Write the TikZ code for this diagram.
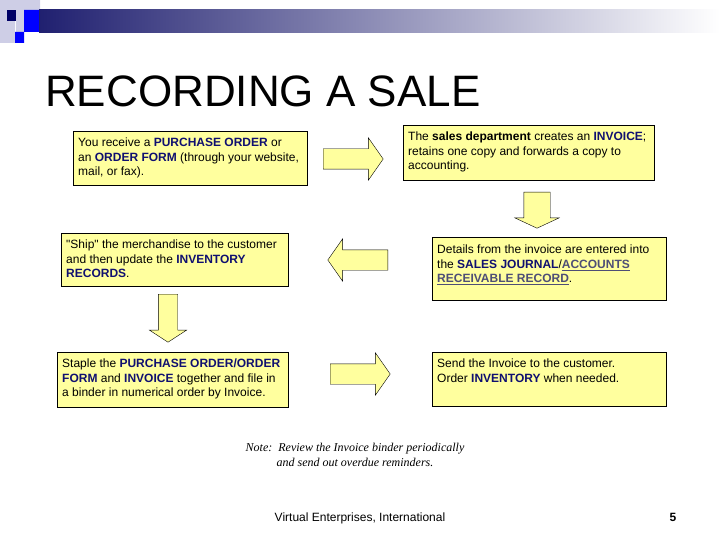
\documentclass[tikz,border=0pt]{standalone}
\usepackage{fontspec}
\setmainfont{Liberation Sans}
\newfontfamily\notefont{Liberation Serif}
\usetikzlibrary{shapes.arrows,positioning}
\definecolor{cardYellow}{RGB}{255,255,158}
\definecolor{keyNavy}{RGB}{16,16,112}
\definecolor{linkGray}{RGB}{78,78,118}
\definecolor{barNavy}{RGB}{32,32,112}
\definecolor{squareLav}{RGB}{206,206,230}
\definecolor{squareNavy}{RGB}{0,0,102}
\definecolor{squareBlue}{RGB}{0,0,255}
\newcommand{\kw}[1]{\textbf{\color{keyNavy}#1}}
\newcommand{\lnk}[1]{\textbf{\color{linkGray}\underline{#1}}}
\newcommand{\cardtext}[3]{\parbox[t][#2][t]{#1}{\raggedright #3}}

\begin{document}
\begin{tikzpicture}[x=1pt,y=-1pt,
  card/.style={draw, fill=cardYellow, anchor=north west, inner xsep=5pt,
    inner ysep=7pt, font=\fontsize{12}{14.5}\selectfont},
  blockarrow/.style={single arrow, draw, fill=cardYellow, anchor=tail,
    inner xsep=0pt, minimum width=1pt},
  downarrow/.style={blockarrow, shape border rotate=270, inner ysep=0pt}
]
\useasboundingbox (0,0) rectangle (720,540);
% header bar and squares
\fill[squareLav] (0,0) rectangle (40,10) (0,10) rectangle (7,43)
  (16,10) rectangle (24,32) (7,21) rectangle (15,43);
\fill[squareNavy] (7,10) rectangle (16,21);
\fill[squareBlue] (24,10) rectangle (39,32) (15,32) rectangle (24,43);
\shade[left color=barNavy, right color=white] (39,10) rectangle (720,33);
\node[anchor=base west, inner sep=0pt, font=\fontsize{44}{44}\selectfont]
  (title) at (45,107) {RECORDING A SALE};

\node[card] (order) at (73,131) {\cardtext{224pt}{40pt}{You receive a
  \kw{PURCHASE ORDER} or\\ an \kw{ORDER FORM} (through your website,\\
  mail, or fax).}};
\node[card] (invoice) at (403,125) {\cardtext{241pt}{41pt}{The
  \textbf{sales department} creates an \kw{INVOICE};\\ retains one copy
  and forwards a copy to\\ accounting.}};
\node[card] (ship) at (61,233) {\cardtext{217pt}{39pt}{\textquotedbl
  Ship\textquotedbl{} the merchandise to the customer\\ and then update
  the \kw{INVENTORY}\\ \kw{RECORDS}.}};
\node[card, inner ysep=8pt] (journal) at (432,237) {\cardtext{224pt}{47pt}{Details from
  the invoice are entered into\\ the \kw{SALES JOURNAL}/\lnk{ACCOUNTS}\\
  \lnk{RECEIVABLE RECORD}.}};
\node[card] (staple) at (57,352) {\cardtext{221pt}{41pt}{Staple the
  \kw{PURCHASE ORDER/ORDER}\\ \kw{FORM} and \kw{INVOICE} together and
  file in\\ a binder in numerical order by Invoice.}};
\node[card] (send) at (432,352) {\cardtext{224pt}{40pt}{Send the Invoice
  to the customer.\\ Order \kw{INVENTORY} when needed.}};

\node[blockarrow, minimum height=60pt, inner ysep=10pt,
  single arrow head extend=11pt, single arrow tip angle=110]
  (toInvoice) at (323,159) {};
\node[downarrow, minimum height=36pt, inner xsep=13pt,
  single arrow head extend=9pt, single arrow tip angle=130]
  (toJournal) at (537,192) {};
\node[blockarrow, minimum height=60pt, inner ysep=10pt,
  single arrow head extend=11pt, single arrow tip angle=110,
  shape border rotate=180] (toShip) at (388,260) {};
\node[downarrow, minimum height=48pt, inner xsep=9.5pt,
  single arrow head extend=9pt, single arrow tip angle=114]
  (toStaple) at (168,294) {};
\node[blockarrow, minimum height=60pt, inner ysep=10pt,
  single arrow head extend=11pt, single arrow tip angle=110]
  (toSend) at (330,374) {};

\node[align=center, font=\notefont\itshape\fontsize{12}{15}\selectfont]
  (note) at (355,455) {Note:\ \ Review the Invoice binder periodically\\
  and send out overdue reminders.};
\node[anchor=base, font=\fontsize{12}{14}\selectfont] (footer) at (360,521)
  {Virtual Enterprises, International};
\node[anchor=base, font=\bfseries\fontsize{12}{14}\selectfont] (page)
  at (673,521) {5};
\end{tikzpicture}
\end{document}
